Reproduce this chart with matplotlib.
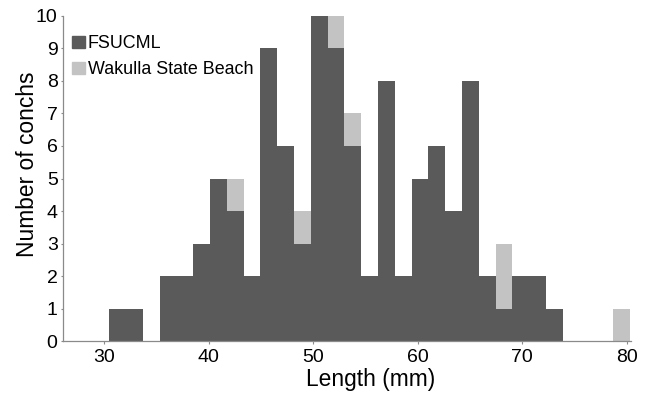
import numpy as np
import matplotlib
matplotlib.use("Agg")
from matplotlib import pyplot as plt
from matplotlib.patches import Patch

# histogram bins (mm) - 31 equal bins from the smallest to the largest conch
bin_start = 30.5
bin_end = 80.3
n_bins = 31

fsucml = [1, 1, 0, 2, 2, 3, 5, 4, 2, 9, 6, 3, 10, 9, 6, 2,
          8, 2, 5, 6, 4, 8, 2, 1, 2, 2, 1, 0, 0, 0, 0]
wakulla = [0, 0, 0, 0, 0, 0, 0, 1, 0, 0, 0, 1, 0, 1, 1, 0,
           0, 0, 0, 0, 0, 0, 0, 2, 0, 0, 0, 0, 0, 0, 1]

x_ticks = [30, 40, 50, 60, 70, 80]
y_ticks = list(range(0, 11))

dark = "#5a5a5a"
light = "#c3c3c3"

plt.rcParams["font.family"] = ["Liberation Sans", "DejaVu Sans"]

edges = np.linspace(bin_start, bin_end, n_bins + 1)
width = edges[1] - edges[0]

fig = plt.figure(figsize=(6.5, 3.94), dpi=100)
ax = fig.add_axes([0.0974, 0.1338, 0.8726, 0.8262])

ax.bar(edges[:-1], fsucml, width=width, align="edge", color=dark, linewidth=0)
ax.bar(edges[:-1], wakulla, width=width, align="edge", bottom=fsucml,
       color=light, linewidth=0)

ax.set_xlim(26.1, 80.35)
ax.set_ylim(0, 10)
ax.set_xticks(x_ticks)
ax.set_yticks(y_ticks)

for side in ["top", "right"]:
    ax.spines[side].set_visible(False)
for side in ["left", "bottom"]:
    ax.spines[side].set_color("#8a8a8a")
    ax.spines[side].set_linewidth(0.9)

ax.tick_params(axis="both", colors="#8a8a8a", labelcolor="black",
               length=1.8, width=0.8, labelsize=14)
ax.tick_params(axis="x", pad=4.0)
ax.tick_params(axis="y", pad=2.3)

ax.set_xlabel("Length (mm)", fontsize=16.4)
ax.set_ylabel("Number of conchs", fontsize=16.4)
ax.xaxis.set_label_coords(0.542, -0.082)
ax.yaxis.set_label_coords(-0.043, 0.545)

handles = [Patch(color=dark, label="FSUCML"),
           Patch(color=light, label="Wakulla State Beach")]
ax.legend(handles=handles, loc="upper left", bbox_to_anchor=(0.016, 0.94),
          frameon=False, fontsize=12.9, handlelength=0.72, handleheight=0.68,
          handletextpad=0.15, labelspacing=0.5, borderpad=0, borderaxespad=0)

fig.savefig("out.png", dpi=100)
